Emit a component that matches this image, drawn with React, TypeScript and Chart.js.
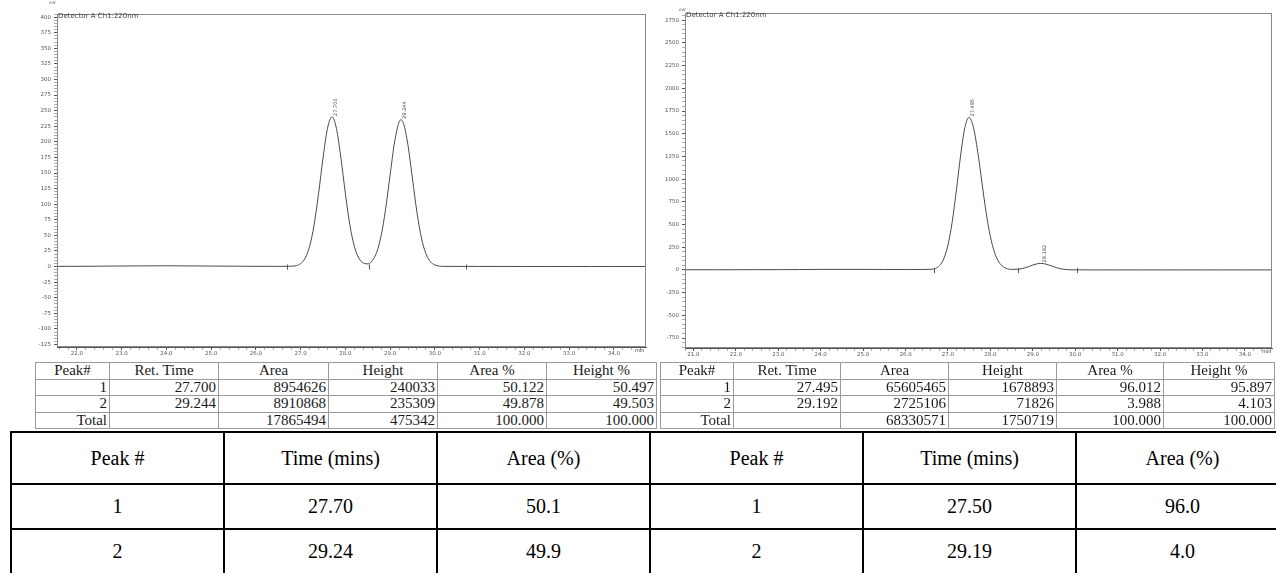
import React, { useEffect, useRef } from 'react';
import { Chart, registerables } from 'chart.js';
Chart.register(...registerables);

// ---------- Left chromatogram (racemic) ----------
const leftTime = [21.56, 22.0, 22.5, 23.0, 23.5, 24.0, 24.5, 25.0, 25.5, 26.0, 26.5, 26.7, 26.8, 26.9, 27.0, 27.1, 27.2, 27.3, 27.4, 27.5, 27.6, 27.7, 27.8, 27.9, 28.0, 28.1, 28.2, 28.3, 28.4, 28.52, 28.6, 28.7, 28.8, 28.9, 29.0, 29.1, 29.2, 29.244, 29.3, 29.4, 29.5, 29.6, 29.7, 29.8, 29.9, 30.0, 30.1, 30.2, 30.7, 31.0, 31.5, 32.0, 32.5, 33.0, 33.5, 34.0, 34.7];
const leftSignal = [0.3, 0.4, 0.6, 0.9, 1.1, 1.2, 1.0, 0.8, 0.6, 0.4, 0.3, 0.4, 0.6, 1.4, 4.8, 13.4, 32.4, 66.7, 116.9, 174.2, 221.5, 240.0, 221.5, 174.2, 116.9, 66.7, 32.4, 13.6, 5.7, 4.3, 9.4, 23.0, 49.9, 92.7, 147.3, 199.8, 231.8, 235.3, 229.6, 194.3, 140.5, 86.8, 45.8, 20.6, 7.9, 2.6, 0.7, 0.3, 0.2, 0.2, 0.2, 0.1, 0.1, 0.1, 0.1, 0.1, 0.1];
const leftPeakTimes = [27.7, 29.244];
const leftPeakLabels = ['27.700', '29.244'];
const leftMarkers = [26.69, 28.52, 30.69];
const leftXTicks = [22, 23, 24, 25, 26, 27, 28, 29, 30, 31, 32, 33, 34];
const leftYTicks = [-125, -100, -75, -50, -25, 0, 25, 50, 75, 100, 125, 150, 175, 200, 225, 250, 275, 300, 325, 350, 375, 400];

// ---------- Right chromatogram (enantioenriched) ----------
const rightTime = [20.8, 21.5, 22.0, 22.5, 23.0, 23.5, 24.0, 24.5, 25.0, 25.5, 26.0, 26.4, 26.6, 26.7, 26.8, 26.9, 27.0, 27.1, 27.2, 27.3, 27.4, 27.495, 27.6, 27.7, 27.8, 27.9, 28.0, 28.1, 28.2, 28.3, 28.4, 28.5, 28.65, 28.8, 28.9, 29.0, 29.1, 29.192, 29.3, 29.4, 29.5, 29.6, 29.7, 29.8, 29.9, 30.0, 30.5, 31.0, 31.5, 32.0, 32.5, 33.0, 33.5, 34.0, 34.64];
const rightSignal = [2, 2, 2, 3, 3, 4, 6, 6, 6, 5, 5, 5, 7, 16, 47, 122, 274, 529, 882, 1267, 1570, 1679, 1572, 1307, 965, 632, 368, 190, 87, 36, 13, 6, 7, 21, 36, 54, 67, 72, 65, 51, 34, 19, 9, 4, 1, 1, 0, 0, 0, 0, 0, 0, 0, 0, 0];
const rightPeakTimes = [27.495, 29.192];
const rightPeakLabels = ['27.495', '29.192'];
const rightMarkers = [26.67, 28.65, 30.05];
const rightXTicks = [21, 22, 23, 24, 25, 26, 27, 28, 29, 30, 31, 32, 33, 34];
const rightYTicks = [-750, -500, -250, 0, 250, 500, 750, 1000, 1250, 1500, 1750, 2000, 2250, 2500, 2750];

// ---------- Instrument tables ----------
const instrHeader = ['Peak#', 'Ret. Time', 'Area', 'Height', 'Area %', 'Height %'];
const leftPeakNo = ['1', '2', 'Total'];
const leftRetTime = ['27.700', '29.244', ''];
const leftArea = ['8954626', '8910868', '17865494'];
const leftHeight = ['240033', '235309', '475342'];
const leftAreaPct = ['50.122', '49.878', '100.000'];
const leftHeightPct = ['50.497', '49.503', '100.000'];
const rightPeakNo = ['1', '2', 'Total'];
const rightRetTime = ['27.495', '29.192', ''];
const rightArea = ['65605465', '2725106', '68330571'];
const rightHeight = ['1678893', '71826', '1750719'];
const rightAreaPct = ['96.012', '3.988', '100.000'];
const rightHeightPct = ['95.897', '4.103', '100.000'];

// ---------- Summary table ----------
const summaryHeader = ['Peak #', 'Time (mins)', 'Area (%)', 'Peak #', 'Time (mins)', 'Area (%)'];
const summaryRow1 = ['1', '27.70', '50.1', '1', '27.50', '96.0'];
const summaryRow2 = ['2', '29.24', '49.9', '2', '29.19', '4.0'];

const key = (v: number) => Math.round(v * 1000);

function makeTicks(majors: number[], step: number, min: number, max: number) {
  const set = new Set(majors.map(key));
  const vals: number[] = [];
  const start = Math.ceil(min / step - 1e-9);
  const end = Math.floor(max / step + 1e-9);
  for (let i = start; i <= end; i++) {
    const v = +(i * step).toFixed(4);
    if (!set.has(key(v))) vals.push(v);
  }
  return [...majors, ...vals].sort((a, b) => a - b).map((v) => ({ value: v }));
}

type ChromProps = {
  left: number; width: number; height: number;
  time: number[]; signal: number[];
  xMin: number; xMax: number; yMin: number; yMax: number;
  xTicks: number[]; yTicks: number[]; xMinor: number; yMinor: number;
  peakTimes: number[]; peakLabels: string[]; markers: number[];
  yAxisWidth: number; padTop: number; padRight: number; xAxisHeight: number;
};

function Chrom(p: ChromProps) {
  const ref = useRef<HTMLCanvasElement | null>(null);
  useEffect(() => {
    if (!ref.current) return;
    const xMajor = new Set(p.xTicks.map(key));
    const yMajor = new Set(p.yTicks.map(key));
    const peaks = p.peakTimes.map((t, i) => ({ t, h: p.signal[p.time.indexOf(t)], label: p.peakLabels[i] }));
    const decor = {
      id: 'decor',
      afterDatasetsDraw(chart: any) {
        const { ctx, chartArea: a, scales } = chart;
        const xs = scales.x, ys = scales.y;
        ctx.save();
        ctx.strokeStyle = '#8a8a8a';
        ctx.lineWidth = 1;
        ctx.strokeRect(Math.round(a.left) + 0.5, Math.round(a.top) + 0.5, Math.round(a.right - a.left) - 1, Math.round(a.bottom - a.top) - 1);
        const y0 = ys.getPixelForValue(0);
        ctx.strokeStyle = '#555';
        p.markers.forEach((t) => {
          const x = Math.round(xs.getPixelForValue(t)) + 0.5;
          ctx.beginPath();
          ctx.moveTo(x, y0 - 2);
          ctx.lineTo(x, y0 + 3);
          ctx.stroke();
        });
        ctx.fillStyle = '#444';
        ctx.font = '5px "DejaVu Sans"';
        peaks.forEach((pk) => {
          const x = xs.getPixelForValue(pk.t);
          const y = ys.getPixelForValue(pk.h);
          ctx.save();
          ctx.translate(x + 1.5, y - 1);
          ctx.rotate(-Math.PI / 2);
          ctx.textAlign = 'left';
          ctx.textBaseline = 'top';
          ctx.fillText(pk.label, 0, 0);
          ctx.restore();
        });
        ctx.restore();
      },
    };
    const chart = new Chart(ref.current, {
      type: 'line',
      data: {
        datasets: [{
          data: p.time.map((t, i) => ({ x: t, y: p.signal[i] })),
          borderColor: '#4a4a4a',
          borderWidth: 1,
          pointRadius: 0,
          cubicInterpolationMode: 'monotone',
          fill: false,
        }],
      },
      options: {
        responsive: false,
        animation: false,
        events: [],
        layout: { padding: { top: p.padTop, right: p.padRight, left: 0, bottom: 0 } },
        plugins: { legend: { display: false }, tooltip: { enabled: false }, title: { display: false } },
        scales: {
          x: {
            type: 'linear',
            min: p.xMin,
            max: p.xMax,
            afterBuildTicks: (s: any) => { s.ticks = makeTicks(p.xTicks, p.xMinor, p.xMin, p.xMax); },
            afterFit: (s: any) => { s.height = p.xAxisHeight; },
            ticks: {
              autoSkip: false, maxRotation: 0, minRotation: 0, padding: 0,
              color: '#555', font: { size: 5.5, family: 'DejaVu Sans' },
              callback: (v: any) => (xMajor.has(key(Number(v))) ? Number(v).toFixed(1) : ''),
            },
            grid: {
              drawOnChartArea: false, drawTicks: true, tickLength: 3, lineWidth: 1,
              color: (c: any) => (c.tick && xMajor.has(key(c.tick.value)) ? '#555' : '#aaa'),
            },
            border: { display: true, color: '#555', width: 1 },
          },
          y: {
            type: 'linear',
            min: p.yMin,
            max: p.yMax,
            afterBuildTicks: (s: any) => { s.ticks = makeTicks(p.yTicks, p.yMinor, p.yMin, p.yMax); },
            afterFit: (s: any) => { s.width = p.yAxisWidth; },
            ticks: {
              autoSkip: false, padding: 3,
              color: '#555', font: { size: 5.5, family: 'DejaVu Sans' },
              callback: (v: any) => (yMajor.has(key(Number(v))) ? String(Number(v)) : ''),
            },
            grid: {
              drawOnChartArea: false, drawTicks: true, tickLength: 3, lineWidth: 1,
              color: (c: any) => (c.tick && yMajor.has(key(c.tick.value)) ? '#555' : '#aaa'),
            },
            border: { display: true, color: '#555', width: 1 },
          },
        },
      },
      plugins: [decor],
    } as any);
    return () => chart.destroy();
  }, []);
  return (
    <canvas
      ref={ref}
      width={p.width}
      height={p.height}
      style={{ position: 'absolute', left: p.left, top: 0, width: p.width, height: p.height }}
    />
  );
}

const tiny = (left: number, top: number, size: number, text: string) => (
  <span style={{ position: 'absolute', left, top, fontSize: size, lineHeight: 1, fontFamily: '"DejaVu Sans", sans-serif', color: '#444', whiteSpace: 'nowrap' }}>{text}</span>
);

function InstrTable(props: { left: number; widths: number[]; cols: string[][] }) {
  const cell: React.CSSProperties = { border: '1px solid #9a9a9a', padding: '0 2px', fontSize: 15, lineHeight: '15px', whiteSpace: 'nowrap', overflow: 'hidden', color: '#1a1a1a' };
  return (
    <table style={{ position: 'absolute', left: props.left, top: 362, borderCollapse: 'collapse', tableLayout: 'fixed', width: props.widths.reduce((a, b) => a + b, 0), fontFamily: '"Liberation Serif", serif' }}>
      <colgroup>{props.widths.map((w, i) => <col key={i} style={{ width: w }} />)}</colgroup>
      <tbody>
        <tr style={{ height: 16.5 }}>{instrHeader.map((h, i) => <td key={i} style={{ ...cell, textAlign: 'center' }}>{h}</td>)}</tr>
        {[0, 1, 2].map((r) => (
          <tr key={r} style={{ height: 16.5 }}>
            {props.cols.map((c, i) => <td key={i} style={{ ...cell, textAlign: 'right' }}>{c[r]}</td>)}
          </tr>
        ))}
      </tbody>
    </table>
  );
}

export default function App() {
  const sCell: React.CSSProperties = { border: '2px solid #000', fontSize: 20, textAlign: 'center', padding: 0, color: '#000', whiteSpace: 'nowrap' };
  return (
    <div style={{ position: 'absolute', left: 0, top: 0, width: 1276, height: 573, background: '#fff', overflow: 'hidden' }}>
      <Chrom
        left={0} width={650} height={360}
        time={leftTime} signal={leftSignal}
        xMin={21.553} xMax={34.72} yMin={-129} yMax={405}
        xTicks={leftXTicks} yTicks={leftYTicks} xMinor={0.2} yMinor={5}
        peakTimes={leftPeakTimes} peakLabels={leftPeakLabels} markers={leftMarkers}
        yAxisWidth={57} padTop={14} padRight={4} xAxisHeight={13}
      />
      <Chrom
        left={650} width={626} height={360}
        time={rightTime} signal={rightSignal}
        xMin={20.8} xMax={34.64} yMin={-860} yMax={2830}
        xTicks={rightXTicks} yTicks={rightYTicks} xMinor={0.2} yMinor={50}
        peakTimes={rightPeakTimes} peakLabels={rightPeakLabels} markers={rightMarkers}
        yAxisWidth={35} padTop={13} padRight={4} xAxisHeight={12}
      />
      {tiny(49, 1, 4, 'mV')}
      {tiny(58, 13, 7, 'Detector A Ch1:220nm')}
      {tiny(635, 348, 5, 'min')}
      {tiny(679, 8, 4, 'mV')}
      {tiny(686, 12, 7, 'Detector A Ch1:220nm')}
      {tiny(1262, 349, 5, 'min')}
      <InstrTable left={35} widths={[74, 109, 110, 109, 109, 110]} cols={[leftPeakNo, leftRetTime, leftArea, leftHeight, leftAreaPct, leftHeightPct]} />
      <InstrTable left={660} widths={[73, 107, 108, 108, 107, 111]} cols={[rightPeakNo, rightRetTime, rightArea, rightHeight, rightAreaPct, rightHeightPct]} />
      <table style={{ position: 'absolute', left: 10, top: 431, borderCollapse: 'collapse', tableLayout: 'fixed', width: 1278, fontFamily: '"Liberation Serif", serif' }}>
        <colgroup>{summaryHeader.map((_, i) => <col key={i} style={{ width: 213 }} />)}</colgroup>
        <tbody>
          <tr style={{ height: 52 }}>{summaryHeader.map((h, i) => <td key={i} style={sCell}>{h}</td>)}</tr>
          <tr style={{ height: 45 }}>{summaryRow1.map((h, i) => <td key={i} style={sCell}>{h}</td>)}</tr>
          <tr style={{ height: 45 }}>{summaryRow2.map((h, i) => <td key={i} style={sCell}>{h}</td>)}</tr>
        </tbody>
      </table>
    </div>
  );
}
